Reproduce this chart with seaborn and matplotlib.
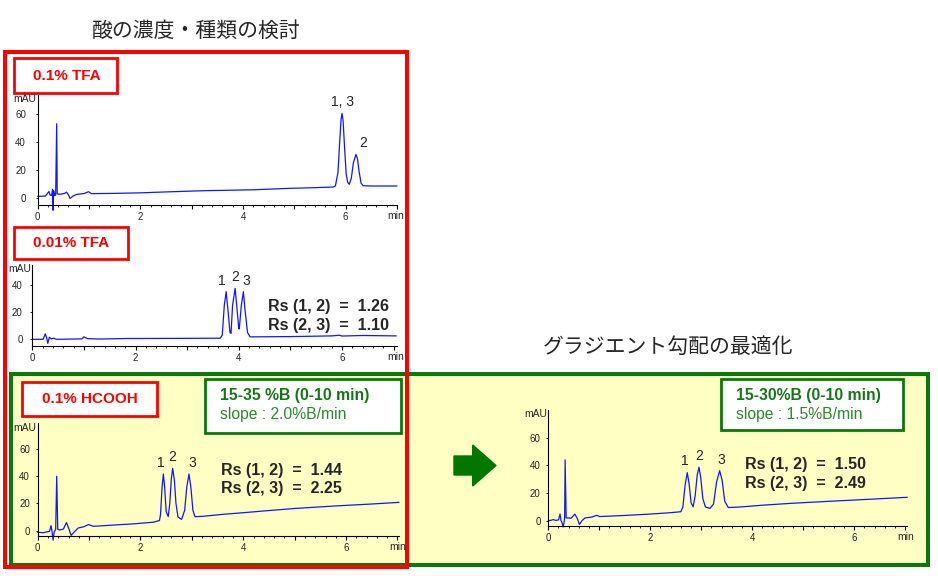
import numpy as np
import pandas as pd
import matplotlib
matplotlib.use("Agg")
import matplotlib.pyplot as plt
from matplotlib.patches import Rectangle, FancyArrow
from matplotlib.ticker import MultipleLocator, FuncFormatter
import seaborn as sns

# ---- chromatogram traces (time in min, signal in mAU) ----
tfa01_time = [0.00, 0.15, 0.22, 0.24, 0.27, 0.29, 0.30, 0.31, 0.33, 0.35, 0.37, 0.38, 0.40,
              0.45, 0.52, 0.56, 0.60, 0.63, 0.70, 0.76, 0.90, 0.99, 1.05, 1.20, 1.47, 2.00,
              2.45, 3.20, 4.20, 4.88, 5.40, 5.76, 5.80, 5.85, 5.88, 5.91, 5.93, 5.95, 5.98,
              6.01, 6.04, 6.07, 6.11, 6.15, 6.20, 6.23, 6.26, 6.30, 6.34, 6.50, 7.00]
tfa01_mau = [1.0, 1.2, 4.5, 2.0, 1.5, 6.0, -9.0, 5.0, 1.5, 2.0, 53.0, 3.0, 2.5,
             2.6, 3.0, 4.0, 2.0, -0.5, 1.5, 2.4, 3.0, 4.3, 2.9, 3.0, 3.1, 3.5,
             4.1, 5.0, 5.7, 6.7, 7.2, 7.7, 8.5, 18.0, 38.0, 56.0, 60.5, 55.0, 35.0,
             17.0, 11.0, 9.6, 14.0, 25.0, 31.0, 28.0, 19.0, 10.5, 8.6, 8.4, 8.4]

tfa001_time = [0.00, 0.21, 0.25, 0.28, 0.30, 0.33, 0.37, 0.41, 0.47, 0.96, 1.00, 1.07, 1.31,
               1.83, 2.09, 3.64, 3.68, 3.72, 3.756, 3.79, 3.83, 3.85, 3.88, 3.93, 3.96,
               4.00, 4.01, 4.05, 4.09, 4.12, 4.17, 4.22, 5.00, 5.80, 5.95, 6.00, 6.40, 7.05]
tfa001_mau = [0.0, 0.0, 4.0, 1.0, -3.0, 1.5, 0.3, 0.8, 0.0, 0.3, 1.8, 0.5, 0.2,
              0.6, 0.6, 0.8, 3.0, 25.0, 35.0, 22.0, 5.0, 4.4, 25.0, 37.5, 25.0,
              8.0, 7.6, 25.0, 35.0, 22.0, 5.0, 1.8, 2.0, 2.5, 3.0, 2.4, 2.8, 2.5]

hcooh_time = [0.00, 0.11, 0.23, 0.26, 0.28, 0.30, 0.32, 0.35, 0.37, 0.39, 0.43, 0.50, 0.56,
              0.61, 0.65, 0.71, 0.79, 0.89, 0.99, 1.08, 1.86, 2.25, 2.37, 2.39, 2.42, 2.445,
              2.47, 2.50, 2.54, 2.57, 2.60, 2.626, 2.66, 2.69, 2.73, 2.80, 2.86, 2.90, 2.944,
              2.98, 3.02, 3.06, 3.20, 3.60, 4.00, 4.50, 5.00, 5.50, 6.00, 6.50, 7.03]
hcooh_mau = [-1.2, -1.5, -0.5, 3.7, -1.0, -7.0, -1.0, 1.0, 40.0, 1.0, 0.5, 1.2, 6.0,
             1.0, -3.5, -1.0, 2.0, 2.8, 4.5, 3.2, 5.0, 6.2, 7.5, 12.0, 32.0, 41.6,
             32.0, 14.0, 10.3, 20.0, 38.0, 45.8, 37.0, 20.0, 10.0, 8.3, 15.0, 32.0, 41.6,
             32.0, 15.0, 10.3, 10.5, 12.0, 13.2, 14.8, 16.3, 17.5, 18.6, 19.6, 20.8]

opt_time = [0.00, 0.05, 0.10, 0.15, 0.20, 0.23, 0.25, 0.27, 0.29, 0.31, 0.32, 0.33, 0.35,
            0.40, 0.45, 0.52, 0.57, 0.61, 0.66, 0.72, 0.85, 0.95, 1.01, 1.50, 2.00, 2.40,
            2.60, 2.64, 2.68, 2.725, 2.76, 2.80, 2.84, 2.88, 2.92, 2.955, 2.99, 3.03, 3.08,
            3.17, 3.24, 3.30, 3.36, 3.41, 3.46, 3.53, 3.80, 4.20, 4.74, 5.50, 6.20, 7.04]
opt_mau = [0.0, 0.3, 0.8, 0.2, 0.6, 4.8, 0.0, -1.5, -4.5, -1.0, 2.0, 43.9, 2.0,
           2.0, 1.8, 4.8, 1.5, -2.7, 0.0, 2.0, 2.6, 3.9, 3.0, 3.8, 4.8, 5.8,
           6.5, 10.0, 25.0, 34.7, 27.0, 13.0, 10.0, 18.0, 33.0, 38.6, 31.0, 16.0, 10.0,
           8.9, 12.0, 28.0, 36.1, 29.0, 14.0, 9.5, 10.0, 11.2, 12.5, 14.0, 15.3, 16.9]

# peak apex times and their labels
tfa01_peaks = [5.93, 6.20]
tfa01_labels = ["1, 3", "2"]
tfa001_peaks = [3.756, 3.93, 4.09]
hcooh_peaks = [2.445, 2.626, 2.944]
opt_peaks = [2.725, 2.955, 3.36]
peak_labels = ["1", "2", "3"]

# resolution values
rs_tfa001 = ["1.26", "1.10"]
rs_hcooh = ["1.44", "2.25"]
rs_opt = ["1.50", "2.49"]

W, H = 938, 576
TRACE = "#1414FF"
RED = "#FF0000"
GREEN = "#0A780A"
YELLOW = "#FFFFC4"

sns.set_style("white")
plt.rcParams["font.family"] = ["Liberation Sans", "Noto Sans CJK JP", "DejaVu Sans"]

fig = plt.figure(figsize=(W / 100, H / 100), dpi=100)

# background layer in pixel coordinates for frames, boxes and titles
bg = fig.add_axes([0, 0, 1, 1])
bg.set_xlim(0, W)
bg.set_ylim(H, 0)
bg.axis("off")


def px_rect(left, top, right, bottom):
    return [left / W, 1 - bottom / H, (right - left) / W, (bottom - top) / H]


def box(x0, y0, x1, y1, color, lw, face="none", z=2):
    bg.add_patch(Rectangle((x0, y0), x1 - x0, y1 - y0, fill=face != "none",
                           facecolor=face, edgecolor=color, linewidth=lw, zorder=z))


# green (gradient) panel and red (acid) panel
box(10.7, 373.7, 928, 564.5, GREEN, 2.9, face=YELLOW, z=1)
box(4.7, 52, 407, 567, RED, 2.9, z=3)

# red condition labels
for (x0, y0, x1, y1), txt in zip([(13.5, 57.5, 117.3, 92.7), (13.5, 226.5, 127.5, 258.5),
                                  (21.7, 381.7, 156.7, 416.0)],
                                 ["0.1% TFA", "0.01% TFA", "0.1% HCOOH"]):
    box(x0, y0, x1, y1, RED, 2, face="white", z=4)
    bg.text((x0 + x1) / 2 + 1, (y0 + y1) / 2 + 0.5, txt, color=RED, fontsize=11,
            fontweight="bold", ha="center", va="center", zorder=5)

# green gradient boxes
for (x0, y0, x1, y1), head, slope in zip([(205.3, 378.7, 401.3, 433.0), (721.3, 378.7, 903.0, 429.7)],
                                         ["15-35 %B (0-10 min)", "15-30%B (0-10 min)"],
                                         ["slope : 2.0%B/min", "slope : 1.5%B/min"]):
    box(x0, y0, x1, y1, GREEN, 2, face="white", z=4)
    bg.text(x0 + 15, y0 + 16.5, head, color="#137813", fontsize=11.3, fontweight="bold",
            ha="left", va="center", zorder=5)
    bg.text(x0 + 15, y0 + 36, slope, color="#2A8A2A", fontsize=11.3,
            ha="left", va="center", zorder=5)

# titles
bg.text(196.5, 31, "酸の濃度・種類の検討", fontsize=15, ha="center", va="center",
        family=["Noto Sans CJK JP", "DejaVu Sans"])
bg.text(668, 347, "グラジエント勾配の最適化", fontsize=15, ha="center", va="center",
        family=["Noto Sans CJK JP", "DejaVu Sans"])

# arrow between the panels
bg.add_patch(FancyArrow(454, 465.5, 42, 0, width=19, head_width=41, head_length=23.3,
                        length_includes_head=True, color="#007800", zorder=4))

# Rs text
for (x, y), vals in zip([(268.3, 306.7), (220.7, 470.3), (745, 464.7)],
                        [rs_tfa001, rs_hcooh, rs_opt]):
    for i, pair in enumerate(["(1, 2)", "(2, 3)"]):
        bg.text(x, y + i * 18.5, f"Rs {pair}  =  {vals[i]}", fontsize=11.5,
                fontweight="bold", ha="left", va="center", zorder=5)


def chromatogram(rect, time, mau, xmax, ylim, peaks, labels, ypad, label_dx=None):
    ax = fig.add_axes(px_rect(*rect))
    ax.set_facecolor("none")
    df = pd.DataFrame({"time": time, "mAU": mau})
    sns.lineplot(data=df, x="time", y="mAU", ax=ax, color=TRACE, linewidth=0.9,
                 estimator=None, sort=False)
    for ln in ax.lines:
        ln.set_clip_on(False)
    ax.set_xlim(0, xmax)
    ax.set_ylim(*ylim)
    ax.set_xlabel("")
    ax.set_ylabel("")
    sns.despine(ax=ax)
    for s in ["left", "bottom"]:
        ax.spines[s].set_color("black")
        ax.spines[s].set_linewidth(0.8)
    ax.xaxis.set_major_locator(MultipleLocator(1))
    ax.xaxis.set_minor_locator(MultipleLocator(0.2))
    ax.xaxis.set_major_formatter(FuncFormatter(
        lambda v, p: f"{int(round(v))}" if int(round(v)) % 2 == 0 else ""))
    ax.set_yticks([v for v in [0, 20, 40, 60] if v < ylim[1]])
    ax.tick_params(axis="x", which="major", length=3, width=0.8, pad=2, labelsize=7,
                   direction="out", bottom=True, color="black")
    ax.tick_params(axis="x", which="minor", length=1.7, width=0.6, direction="out",
                   bottom=True, color="black")
    ax.tick_params(axis="y", length=1.5, width=0.6, pad=ypad, labelsize=7,
                   direction="out", left=True, color="black")
    ax.annotate("mAU", xy=(0, 1), xycoords="axes fraction", xytext=(-1, -3.2),
                textcoords="offset points", ha="right", va="center", fontsize=7.5)
    ax.annotate("min", xy=(1, 0), xycoords="axes fraction", xytext=(-1, -8.3),
                textcoords="offset points", ha="center", va="center", fontsize=7.5)
    if label_dx is None:
        label_dx = [0] * len(peaks)
    for pt, lab, dx in zip(peaks, labels, label_dx):
        apex = np.interp(pt, time, mau)
        ax.annotate(lab, xy=(pt, apex), xytext=(dx, 3), textcoords="offset points",
                    ha="center", va="bottom", fontsize=10)
    return ax


chromatogram((37.7, 94.5, 397.0, 204.7), tfa01_time, tfa01_mau, 7.0, (-5, 74),
             tfa01_peaks, tfa01_labels, 7, label_dx=[0, 5])
chromatogram((32.3, 264.5, 396.7, 345.7), tfa001_time, tfa001_mau, 7.06, (-4.7, 55),
             tfa001_peaks, peak_labels, 5.5, label_dx=[-3, 0, 2])
chromatogram((37.7, 423.2, 399.0, 535.7), hcooh_time, hcooh_mau, 7.03, (-3.7, 79),
             hcooh_peaks, peak_labels, 4, label_dx=[-2, 0, 2])
chromatogram((548.3, 409.9, 907.3, 525.7), opt_time, opt_mau, 7.04, (-3.6, 80),
             opt_peaks, peak_labels, 4, label_dx=[-2, 0, 1])

fig.savefig("out.png", dpi=100)
